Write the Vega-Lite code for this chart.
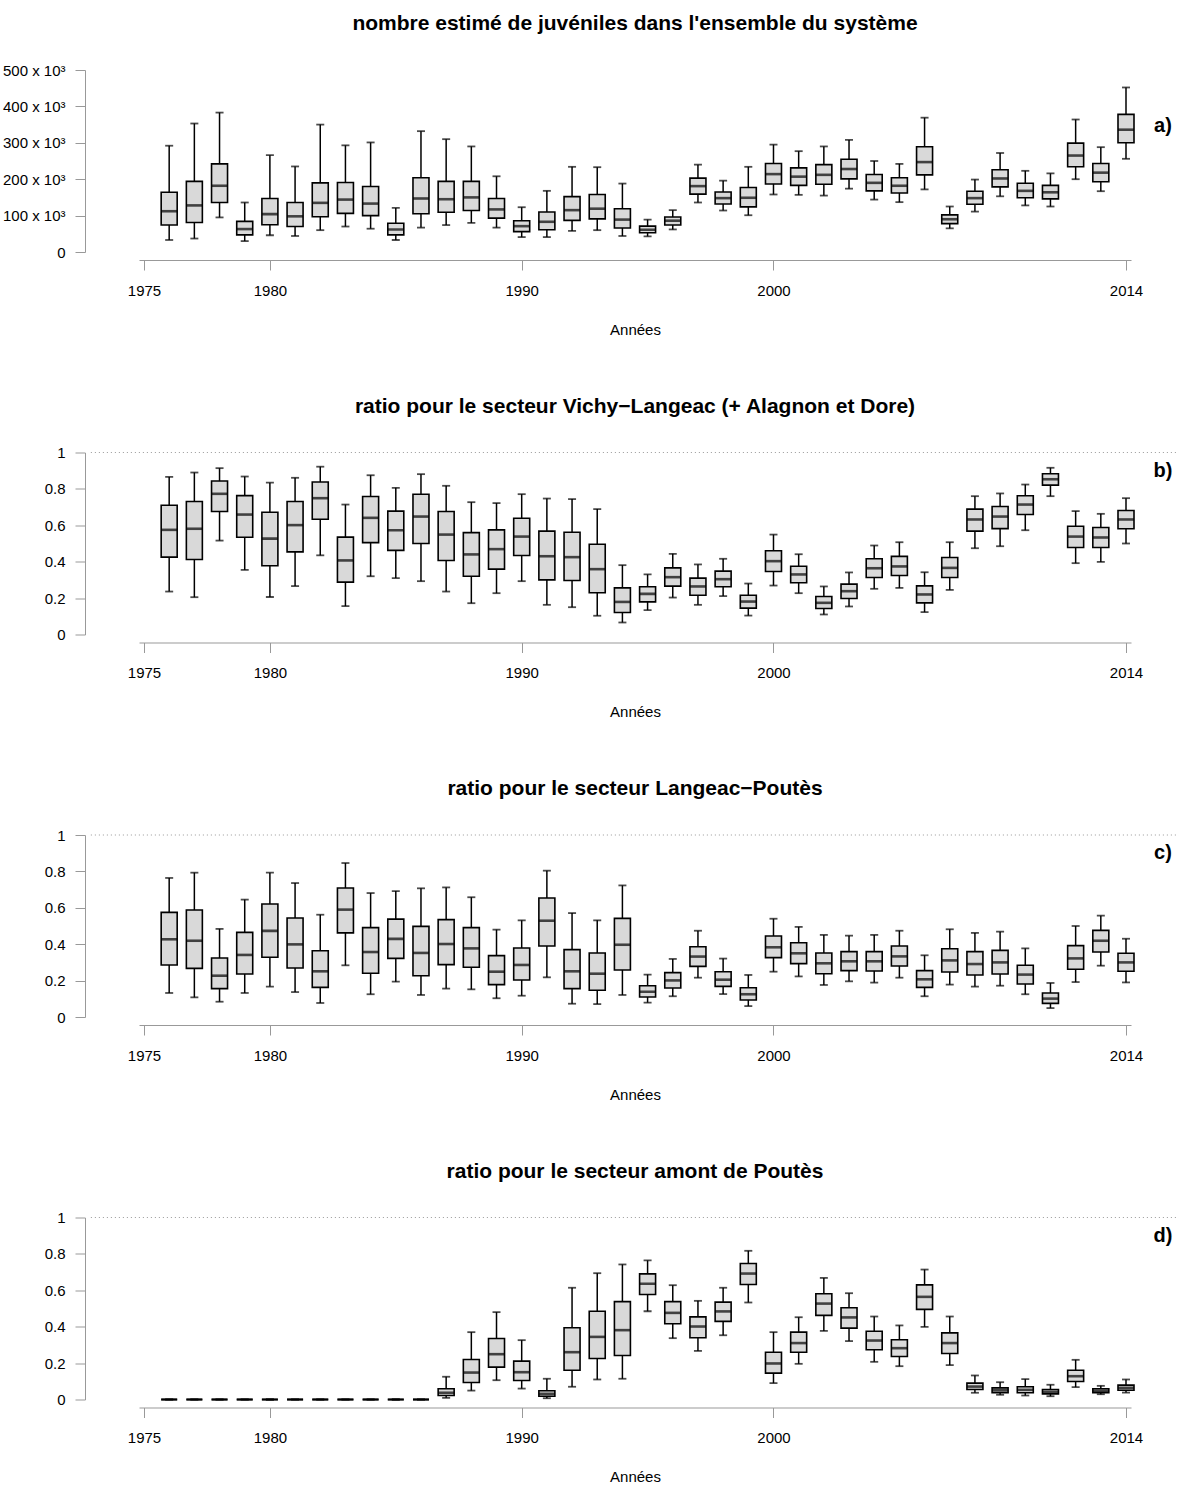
{
  "$schema": "https://vega.github.io/schema/vega-lite/v6.json",
  "padding": {"left": 2, "top": 13, "right": 0, "bottom": 2},
  "background": "white",
  "spacing": 58.5,
  "config": {
    "font": "Liberation Sans",
    "view": {"stroke": null},
    "axis": {"grid": false, "domainColor": "#999999", "tickColor": "#999999", "tickSize": 10, "domainWidth": 1, "tickWidth": 1, "labelFontSize": 15, "labelColor": "#000000", "titleFontSize": 15, "titleFontWeight": "normal", "titleColor": "#000000", "labelFlush": false, "labelOverlap": false},
    "axisX": {"offset": 8, "labelPadding": 13, "titlePadding": 24},
    "axisY": {"offset": 54, "labelPadding": 10},
    "title": {"fontSize": 21, "fontWeight": "bold", "color": "#000000", "offset": 29, "anchor": "middle"}
  },
  "datasets": {
    "a": [
      {"year":1976,"lo":33000,"q1":74000,"med":112000,"q3":164000,"hi":292000},
      {"year":1977,"lo":37000,"q1":81000,"med":128000,"q3":194000,"hi":353000},
      {"year":1978,"lo":95000,"q1":136000,"med":182000,"q3":242000,"hi":383000},
      {"year":1979,"lo":30000,"q1":47000,"med":63000,"q3":84000,"hi":136000},
      {"year":1980,"lo":46000,"q1":75000,"med":104000,"q3":147000,"hi":266000},
      {"year":1981,"lo":44000,"q1":70000,"med":98000,"q3":136000,"hi":235000},
      {"year":1982,"lo":60000,"q1":97000,"med":135000,"q3":190000,"hi":350000},
      {"year":1983,"lo":70000,"q1":106000,"med":144000,"q3":191000,"hi":293000},
      {"year":1984,"lo":64000,"q1":100000,"med":133000,"q3":180000,"hi":301000},
      {"year":1985,"lo":33000,"q1":47000,"med":62000,"q3":79000,"hi":121000},
      {"year":1986,"lo":67000,"q1":105000,"med":147000,"q3":204000,"hi":332000},
      {"year":1987,"lo":74000,"q1":109000,"med":145000,"q3":194000,"hi":310000},
      {"year":1988,"lo":80000,"q1":114000,"med":150000,"q3":194000,"hi":290000},
      {"year":1989,"lo":67000,"q1":93000,"med":117000,"q3":147000,"hi":208000},
      {"year":1990,"lo":41000,"q1":56000,"med":71000,"q3":86000,"hi":123000},
      {"year":1991,"lo":41000,"q1":61000,"med":83000,"q3":110000,"hi":168000},
      {"year":1992,"lo":58000,"q1":87000,"med":115000,"q3":152000,"hi":234000},
      {"year":1993,"lo":60000,"q1":91000,"med":119000,"q3":158000,"hi":233000},
      {"year":1994,"lo":44000,"q1":66000,"med":89000,"q3":119000,"hi":188000},
      {"year":1995,"lo":43000,"q1":53000,"med":61000,"q3":71000,"hi":89000},
      {"year":1996,"lo":62000,"q1":74000,"med":86000,"q3":96000,"hi":115000},
      {"year":1997,"lo":136000,"q1":159000,"med":181000,"q3":203000,"hi":240000},
      {"year":1998,"lo":114000,"q1":132000,"med":148000,"q3":165000,"hi":196000},
      {"year":1999,"lo":101000,"q1":124000,"med":149000,"q3":177000,"hi":234000},
      {"year":2000,"lo":158000,"q1":187000,"med":214000,"q3":243000,"hi":295000},
      {"year":2001,"lo":157000,"q1":183000,"med":207000,"q3":231000,"hi":277000},
      {"year":2002,"lo":155000,"q1":186000,"med":212000,"q3":240000,"hi":290000},
      {"year":2003,"lo":174000,"q1":201000,"med":228000,"q3":255000,"hi":308000},
      {"year":2004,"lo":144000,"q1":168000,"med":190000,"q3":213000,"hi":250000},
      {"year":2005,"lo":137000,"q1":162000,"med":182000,"q3":204000,"hi":242000},
      {"year":2006,"lo":172000,"q1":212000,"med":247000,"q3":289000,"hi":369000},
      {"year":2007,"lo":65000,"q1":78000,"med":90000,"q3":102000,"hi":125000},
      {"year":2008,"lo":111000,"q1":131000,"med":148000,"q3":167000,"hi":199000},
      {"year":2009,"lo":153000,"q1":179000,"med":202000,"q3":226000,"hi":272000},
      {"year":2010,"lo":128000,"q1":149000,"med":168000,"q3":189000,"hi":223000},
      {"year":2011,"lo":125000,"q1":146000,"med":164000,"q3":183000,"hi":216000},
      {"year":2012,"lo":200000,"q1":234000,"med":265000,"q3":299000,"hi":364000},
      {"year":2013,"lo":167000,"q1":193000,"med":218000,"q3":243000,"hi":288000},
      {"year":2014,"lo":256000,"q1":300000,"med":336000,"q3":378000,"hi":452000}
    ],
    "b": [
      {"year":1976,"lo":0.236,"q1":0.425,"med":0.575,"q3":0.71,"hi":0.866},
      {"year":1977,"lo":0.205,"q1":0.412,"med":0.581,"q3":0.731,"hi":0.89},
      {"year":1978,"lo":0.516,"q1":0.676,"med":0.773,"q3":0.843,"hi":0.914},
      {"year":1979,"lo":0.355,"q1":0.534,"med":0.659,"q3":0.763,"hi":0.868},
      {"year":1980,"lo":0.206,"q1":0.378,"med":0.527,"q3":0.672,"hi":0.834},
      {"year":1981,"lo":0.266,"q1":0.454,"med":0.601,"q3":0.731,"hi":0.861},
      {"year":1982,"lo":0.435,"q1":0.633,"med":0.749,"q3":0.838,"hi":0.922},
      {"year":1983,"lo":0.156,"q1":0.288,"med":0.407,"q3":0.535,"hi":0.714},
      {"year":1984,"lo":0.32,"q1":0.505,"med":0.641,"q3":0.758,"hi":0.875},
      {"year":1985,"lo":0.31,"q1":0.462,"med":0.573,"q3":0.678,"hi":0.806},
      {"year":1986,"lo":0.293,"q1":0.5,"med":0.648,"q3":0.771,"hi":0.881},
      {"year":1987,"lo":0.236,"q1":0.407,"med":0.549,"q3":0.676,"hi":0.817},
      {"year":1988,"lo":0.172,"q1":0.32,"med":0.44,"q3":0.56,"hi":0.727},
      {"year":1989,"lo":0.227,"q1":0.359,"med":0.469,"q3":0.575,"hi":0.722},
      {"year":1990,"lo":0.293,"q1":0.434,"med":0.538,"q3":0.639,"hi":0.771},
      {"year":1991,"lo":0.163,"q1":0.3,"med":0.43,"q3":0.568,"hi":0.747},
      {"year":1992,"lo":0.15,"q1":0.297,"med":0.425,"q3":0.562,"hi":0.744},
      {"year":1993,"lo":0.103,"q1":0.229,"med":0.359,"q3":0.496,"hi":0.689},
      {"year":1994,"lo":0.066,"q1":0.121,"med":0.179,"q3":0.256,"hi":0.381},
      {"year":1995,"lo":0.134,"q1":0.179,"med":0.223,"q3":0.262,"hi":0.33},
      {"year":1996,"lo":0.203,"q1":0.266,"med":0.315,"q3":0.366,"hi":0.443},
      {"year":1997,"lo":0.163,"q1":0.216,"med":0.264,"q3":0.31,"hi":0.385},
      {"year":1998,"lo":0.211,"q1":0.262,"med":0.304,"q3":0.348,"hi":0.416},
      {"year":1999,"lo":0.104,"q1":0.145,"med":0.181,"q3":0.216,"hi":0.28},
      {"year":2000,"lo":0.269,"q1":0.346,"med":0.403,"q3":0.46,"hi":0.549},
      {"year":2001,"lo":0.227,"q1":0.284,"med":0.33,"q3":0.375,"hi":0.441},
      {"year":2002,"lo":0.11,"q1":0.143,"med":0.174,"q3":0.209,"hi":0.264},
      {"year":2003,"lo":0.154,"q1":0.198,"med":0.238,"q3":0.277,"hi":0.341},
      {"year":2004,"lo":0.251,"q1":0.313,"med":0.364,"q3":0.416,"hi":0.489},
      {"year":2005,"lo":0.256,"q1":0.324,"med":0.374,"q3":0.429,"hi":0.507},
      {"year":2006,"lo":0.123,"q1":0.174,"med":0.22,"q3":0.267,"hi":0.342},
      {"year":2007,"lo":0.245,"q1":0.313,"med":0.366,"q3":0.423,"hi":0.507},
      {"year":2008,"lo":0.474,"q1":0.568,"med":0.632,"q3":0.689,"hi":0.76},
      {"year":2009,"lo":0.485,"q1":0.582,"med":0.648,"q3":0.703,"hi":0.775},
      {"year":2010,"lo":0.573,"q1":0.659,"med":0.714,"q3":0.762,"hi":0.824},
      {"year":2011,"lo":0.76,"q1":0.821,"med":0.853,"q3":0.883,"hi":0.916},
      {"year":2012,"lo":0.392,"q1":0.478,"med":0.538,"q3":0.595,"hi":0.678},
      {"year":2013,"lo":0.399,"q1":0.478,"med":0.533,"q3":0.588,"hi":0.663},
      {"year":2014,"lo":0.5,"q1":0.581,"med":0.632,"q3":0.681,"hi":0.749}
    ],
    "c": [
      {"year":1976,"lo":0.132,"q1":0.286,"med":0.427,"q3":0.575,"hi":0.764},
      {"year":1977,"lo":0.108,"q1":0.267,"med":0.419,"q3":0.588,"hi":0.793},
      {"year":1978,"lo":0.084,"q1":0.156,"med":0.227,"q3":0.324,"hi":0.484},
      {"year":1979,"lo":0.132,"q1":0.236,"med":0.341,"q3":0.465,"hi":0.645},
      {"year":1980,"lo":0.167,"q1":0.328,"med":0.473,"q3":0.621,"hi":0.793},
      {"year":1981,"lo":0.137,"q1":0.269,"med":0.399,"q3":0.544,"hi":0.736},
      {"year":1982,"lo":0.077,"q1":0.163,"med":0.251,"q3":0.364,"hi":0.562},
      {"year":1983,"lo":0.284,"q1":0.462,"med":0.59,"q3":0.709,"hi":0.846},
      {"year":1984,"lo":0.125,"q1":0.24,"med":0.357,"q3":0.491,"hi":0.681},
      {"year":1985,"lo":0.194,"q1":0.322,"med":0.429,"q3":0.538,"hi":0.692},
      {"year":1986,"lo":0.121,"q1":0.227,"med":0.352,"q3":0.498,"hi":0.707},
      {"year":1987,"lo":0.156,"q1":0.288,"med":0.401,"q3":0.535,"hi":0.712},
      {"year":1988,"lo":0.152,"q1":0.273,"med":0.377,"q3":0.491,"hi":0.658},
      {"year":1989,"lo":0.103,"q1":0.178,"med":0.249,"q3":0.337,"hi":0.48},
      {"year":1990,"lo":0.117,"q1":0.203,"med":0.286,"q3":0.379,"hi":0.531},
      {"year":1991,"lo":0.218,"q1":0.39,"med":0.529,"q3":0.654,"hi":0.804},
      {"year":1992,"lo":0.073,"q1":0.156,"med":0.251,"q3":0.37,"hi":0.571},
      {"year":1993,"lo":0.071,"q1":0.147,"med":0.238,"q3":0.352,"hi":0.531},
      {"year":1994,"lo":0.121,"q1":0.258,"med":0.397,"q3":0.542,"hi":0.723},
      {"year":1995,"lo":0.079,"q1":0.11,"med":0.139,"q3":0.172,"hi":0.233},
      {"year":1996,"lo":0.114,"q1":0.159,"med":0.201,"q3":0.244,"hi":0.319},
      {"year":1997,"lo":0.216,"q1":0.278,"med":0.332,"q3":0.386,"hi":0.474},
      {"year":1998,"lo":0.126,"q1":0.168,"med":0.205,"q3":0.249,"hi":0.321},
      {"year":1999,"lo":0.06,"q1":0.093,"med":0.125,"q3":0.161,"hi":0.231},
      {"year":2000,"lo":0.249,"q1":0.326,"med":0.383,"q3":0.445,"hi":0.54},
      {"year":2001,"lo":0.223,"q1":0.293,"med":0.35,"q3":0.408,"hi":0.495},
      {"year":2002,"lo":0.176,"q1":0.238,"med":0.295,"q3":0.352,"hi":0.451},
      {"year":2003,"lo":0.196,"q1":0.255,"med":0.306,"q3":0.359,"hi":0.447},
      {"year":2004,"lo":0.189,"q1":0.253,"med":0.306,"q3":0.359,"hi":0.451},
      {"year":2005,"lo":0.216,"q1":0.28,"med":0.333,"q3":0.39,"hi":0.474},
      {"year":2006,"lo":0.114,"q1":0.163,"med":0.207,"q3":0.255,"hi":0.339},
      {"year":2007,"lo":0.178,"q1":0.247,"med":0.311,"q3":0.375,"hi":0.482},
      {"year":2008,"lo":0.167,"q1":0.231,"med":0.291,"q3":0.359,"hi":0.462},
      {"year":2009,"lo":0.172,"q1":0.236,"med":0.3,"q3":0.366,"hi":0.469},
      {"year":2010,"lo":0.125,"q1":0.181,"med":0.233,"q3":0.284,"hi":0.377},
      {"year":2011,"lo":0.049,"q1":0.075,"med":0.101,"q3":0.132,"hi":0.187},
      {"year":2012,"lo":0.192,"q1":0.262,"med":0.322,"q3":0.392,"hi":0.5},
      {"year":2013,"lo":0.282,"q1":0.357,"med":0.419,"q3":0.476,"hi":0.557},
      {"year":2014,"lo":0.19,"q1":0.251,"med":0.3,"q3":0.35,"hi":0.43}
    ],
    "d": [
      {"year":1976,"lo":0,"q1":0,"med":0,"q3":0,"hi":0},
      {"year":1977,"lo":0,"q1":0,"med":0,"q3":0,"hi":0},
      {"year":1978,"lo":0,"q1":0,"med":0,"q3":0,"hi":0},
      {"year":1979,"lo":0,"q1":0,"med":0,"q3":0,"hi":0},
      {"year":1980,"lo":0,"q1":0,"med":0,"q3":0,"hi":0},
      {"year":1981,"lo":0,"q1":0,"med":0,"q3":0,"hi":0},
      {"year":1982,"lo":0,"q1":0,"med":0,"q3":0,"hi":0},
      {"year":1983,"lo":0,"q1":0,"med":0,"q3":0,"hi":0},
      {"year":1984,"lo":0,"q1":0,"med":0,"q3":0,"hi":0},
      {"year":1985,"lo":0,"q1":0,"med":0,"q3":0,"hi":0},
      {"year":1986,"lo":0,"q1":0,"med":0,"q3":0,"hi":0},
      {"year":1987,"lo":0.009,"q1":0.022,"med":0.037,"q3":0.059,"hi":0.125},
      {"year":1988,"lo":0.049,"q1":0.093,"med":0.148,"q3":0.22,"hi":0.37},
      {"year":1989,"lo":0.106,"q1":0.178,"med":0.249,"q3":0.335,"hi":0.48},
      {"year":1990,"lo":0.06,"q1":0.104,"med":0.15,"q3":0.211,"hi":0.326},
      {"year":1991,"lo":0.007,"q1":0.018,"med":0.031,"q3":0.048,"hi":0.114},
      {"year":1992,"lo":0.07,"q1":0.161,"med":0.26,"q3":0.394,"hi":0.614},
      {"year":1993,"lo":0.11,"q1":0.225,"med":0.344,"q3":0.485,"hi":0.694},
      {"year":1994,"lo":0.114,"q1":0.242,"med":0.381,"q3":0.538,"hi":0.742},
      {"year":1995,"lo":0.485,"q1":0.577,"med":0.636,"q3":0.69,"hi":0.764},
      {"year":1996,"lo":0.337,"q1":0.416,"med":0.476,"q3":0.538,"hi":0.628},
      {"year":1997,"lo":0.267,"q1":0.339,"med":0.401,"q3":0.454,"hi":0.542},
      {"year":1998,"lo":0.353,"q1":0.429,"med":0.484,"q3":0.535,"hi":0.614},
      {"year":1999,"lo":0.533,"q1":0.632,"med":0.692,"q3":0.747,"hi":0.817},
      {"year":2000,"lo":0.09,"q1":0.145,"med":0.198,"q3":0.26,"hi":0.37},
      {"year":2001,"lo":0.196,"q1":0.26,"med":0.31,"q3":0.37,"hi":0.452},
      {"year":2002,"lo":0.377,"q1":0.462,"med":0.527,"q3":0.581,"hi":0.668},
      {"year":2003,"lo":0.321,"q1":0.392,"med":0.451,"q3":0.504,"hi":0.584},
      {"year":2004,"lo":0.207,"q1":0.273,"med":0.324,"q3":0.375,"hi":0.456},
      {"year":2005,"lo":0.183,"q1":0.236,"med":0.282,"q3":0.328,"hi":0.407},
      {"year":2006,"lo":0.399,"q1":0.495,"med":0.564,"q3":0.63,"hi":0.714},
      {"year":2007,"lo":0.189,"q1":0.253,"med":0.31,"q3":0.366,"hi":0.456},
      {"year":2008,"lo":0.037,"q1":0.055,"med":0.071,"q3":0.09,"hi":0.132},
      {"year":2009,"lo":0.026,"q1":0.038,"med":0.051,"q3":0.064,"hi":0.095},
      {"year":2010,"lo":0.022,"q1":0.037,"med":0.053,"q3":0.07,"hi":0.112},
      {"year":2011,"lo":0.018,"q1":0.031,"med":0.042,"q3":0.055,"hi":0.081},
      {"year":2012,"lo":0.068,"q1":0.099,"med":0.128,"q3":0.161,"hi":0.218},
      {"year":2013,"lo":0.029,"q1":0.038,"med":0.048,"q3":0.059,"hi":0.075},
      {"year":2014,"lo":0.038,"q1":0.051,"med":0.064,"q3":0.079,"hi":0.11}
    ]
  },
  "vconcat": [
    {
      "data": {"name": "a"},
      "width": 992, "height": 182,
      "title": {"text": "nombre estimé de juvéniles dans l'ensemble du système"},
      "layer": [
        {"mark": {"type": "rule", "color": "#000000", "strokeWidth": 1.5}, "encoding": {"x": {"field": "year", "type": "quantitative", "scale": {"domain": [1975, 2014], "nice": false, "zero": false}, "axis": {"values": [1975, 1980, 1990, 2000, 2014], "tickCount": 20, "format": "d", "title": "Années", "labelOverlap": false, "labelFlush": false}}, "y": {"field": "lo", "type": "quantitative", "title": null, "scale": {"domain": [0, 500000], "nice": false, "zero": false}, "axis": {"values": [0, 100000, 200000, 300000, 400000, 500000], "tickCount": 10, "labelOverlap": false, "labelFlush": false, "labelExpr": "datum.value == 0 ? '0' : format(datum.value / 1000, 'd') + ' x 10³'"}}, "y2": {"field": "hi"}}},
        {"mark": {"type": "tick", "orient": "horizontal", "size": 8, "thickness": 1.8, "color": "#000000"}, "encoding": {"x": {"field": "year", "type": "quantitative"}, "y": {"field": "lo", "type": "quantitative", "title": null}}},
        {"mark": {"type": "tick", "orient": "horizontal", "size": 8, "thickness": 1.8, "color": "#000000"}, "encoding": {"x": {"field": "year", "type": "quantitative"}, "y": {"field": "hi", "type": "quantitative", "title": null}}},
        {"mark": {"type": "bar", "width": 16, "fill": "#d9d9d9", "stroke": "#000000", "strokeWidth": 1.6}, "encoding": {"x": {"field": "year", "type": "quantitative"}, "y": {"field": "q1", "type": "quantitative", "title": null}, "y2": {"field": "q3"}}},
        {"mark": {"type": "tick", "orient": "horizontal", "size": 16, "thickness": 2.6, "color": "#000000"}, "encoding": {"x": {"field": "year", "type": "quantitative"}, "y": {"field": "med", "type": "quantitative", "title": null}}},
        {"transform": [{"filter": "datum.year == 2014"}], "mark": {"type": "text", "fontSize": 20, "fontWeight": "bold", "align": "center", "baseline": "middle", "color": "#000000", "text": "a)"}, "encoding": {"x": {"datum": 2015.47, "type": "quantitative"}, "y": {"datum": 345000, "type": "quantitative"}}}
      ]
    },
    {
      "data": {"name": "b"},
      "width": 992, "height": 182,
      "title": {"text": "ratio pour le secteur Vichy−Langeac (+ Alagnon et Dore)"},
      "layer": [
        {"mark": {"type": "rule", "color": "#000000", "strokeWidth": 1.5}, "encoding": {"x": {"field": "year", "type": "quantitative", "scale": {"domain": [1975, 2014], "nice": false, "zero": false}, "axis": {"values": [1975, 1980, 1990, 2000, 2014], "tickCount": 20, "format": "d", "title": "Années", "labelOverlap": false, "labelFlush": false}}, "y": {"field": "lo", "type": "quantitative", "title": null, "scale": {"domain": [0, 1], "nice": false, "zero": false}, "axis": {"values": [0, 0.2, 0.4, 0.6, 0.8, 1], "tickCount": 10, "format": "~g", "labelOverlap": false, "labelFlush": false}}, "y2": {"field": "hi"}}},
        {"mark": {"type": "tick", "orient": "horizontal", "size": 8, "thickness": 1.8, "color": "#000000"}, "encoding": {"x": {"field": "year", "type": "quantitative"}, "y": {"field": "lo", "type": "quantitative", "title": null}}},
        {"mark": {"type": "tick", "orient": "horizontal", "size": 8, "thickness": 1.8, "color": "#000000"}, "encoding": {"x": {"field": "year", "type": "quantitative"}, "y": {"field": "hi", "type": "quantitative", "title": null}}},
        {"mark": {"type": "bar", "width": 16, "fill": "#d9d9d9", "stroke": "#000000", "strokeWidth": 1.6}, "encoding": {"x": {"field": "year", "type": "quantitative"}, "y": {"field": "q1", "type": "quantitative", "title": null}, "y2": {"field": "q3"}}},
        {"mark": {"type": "tick", "orient": "horizontal", "size": 16, "thickness": 2.6, "color": "#000000"}, "encoding": {"x": {"field": "year", "type": "quantitative"}, "y": {"field": "med", "type": "quantitative", "title": null}}},
        {"transform": [{"filter": "datum.year == 2014"}], "mark": {"type": "rule", "color": "#999999", "strokeWidth": 1, "strokeDash": [1, 3]}, "encoding": {"x": {"datum": 1972.89, "type": "quantitative"}, "x2": {"datum": 2016.1}, "y": {"datum": 1, "type": "quantitative"}}},
        {"transform": [{"filter": "datum.year == 2014"}], "mark": {"type": "text", "fontSize": 20, "fontWeight": "bold", "align": "center", "baseline": "middle", "color": "#000000", "text": "b)"}, "encoding": {"x": {"datum": 2015.47, "type": "quantitative"}, "y": {"datum": 0.9, "type": "quantitative"}}}
      ]
    },
    {
      "data": {"name": "c"},
      "width": 992, "height": 182,
      "title": {"text": "ratio pour le secteur Langeac−Poutès"},
      "layer": [
        {"mark": {"type": "rule", "color": "#000000", "strokeWidth": 1.5}, "encoding": {"x": {"field": "year", "type": "quantitative", "scale": {"domain": [1975, 2014], "nice": false, "zero": false}, "axis": {"values": [1975, 1980, 1990, 2000, 2014], "tickCount": 20, "format": "d", "title": "Années", "labelOverlap": false, "labelFlush": false}}, "y": {"field": "lo", "type": "quantitative", "title": null, "scale": {"domain": [0, 1], "nice": false, "zero": false}, "axis": {"values": [0, 0.2, 0.4, 0.6, 0.8, 1], "tickCount": 10, "format": "~g", "labelOverlap": false, "labelFlush": false}}, "y2": {"field": "hi"}}},
        {"mark": {"type": "tick", "orient": "horizontal", "size": 8, "thickness": 1.8, "color": "#000000"}, "encoding": {"x": {"field": "year", "type": "quantitative"}, "y": {"field": "lo", "type": "quantitative", "title": null}}},
        {"mark": {"type": "tick", "orient": "horizontal", "size": 8, "thickness": 1.8, "color": "#000000"}, "encoding": {"x": {"field": "year", "type": "quantitative"}, "y": {"field": "hi", "type": "quantitative", "title": null}}},
        {"mark": {"type": "bar", "width": 16, "fill": "#d9d9d9", "stroke": "#000000", "strokeWidth": 1.6}, "encoding": {"x": {"field": "year", "type": "quantitative"}, "y": {"field": "q1", "type": "quantitative", "title": null}, "y2": {"field": "q3"}}},
        {"mark": {"type": "tick", "orient": "horizontal", "size": 16, "thickness": 2.6, "color": "#000000"}, "encoding": {"x": {"field": "year", "type": "quantitative"}, "y": {"field": "med", "type": "quantitative", "title": null}}},
        {"transform": [{"filter": "datum.year == 2014"}], "mark": {"type": "rule", "color": "#999999", "strokeWidth": 1, "strokeDash": [1, 3]}, "encoding": {"x": {"datum": 1972.89, "type": "quantitative"}, "x2": {"datum": 2016.1}, "y": {"datum": 1, "type": "quantitative"}}},
        {"transform": [{"filter": "datum.year == 2014"}], "mark": {"type": "text", "fontSize": 20, "fontWeight": "bold", "align": "center", "baseline": "middle", "color": "#000000", "text": "c)"}, "encoding": {"x": {"datum": 2015.47, "type": "quantitative"}, "y": {"datum": 0.9, "type": "quantitative"}}}
      ]
    },
    {
      "data": {"name": "d"},
      "width": 992, "height": 182,
      "title": {"text": "ratio pour le secteur amont de Poutès"},
      "layer": [
        {"mark": {"type": "rule", "color": "#000000", "strokeWidth": 1.5}, "encoding": {"x": {"field": "year", "type": "quantitative", "scale": {"domain": [1975, 2014], "nice": false, "zero": false}, "axis": {"values": [1975, 1980, 1990, 2000, 2014], "tickCount": 20, "format": "d", "title": "Années", "labelOverlap": false, "labelFlush": false}}, "y": {"field": "lo", "type": "quantitative", "title": null, "scale": {"domain": [0, 1], "nice": false, "zero": false}, "axis": {"values": [0, 0.2, 0.4, 0.6, 0.8, 1], "tickCount": 10, "format": "~g", "labelOverlap": false, "labelFlush": false}}, "y2": {"field": "hi"}}},
        {"mark": {"type": "tick", "orient": "horizontal", "size": 8, "thickness": 1.8, "color": "#000000"}, "encoding": {"x": {"field": "year", "type": "quantitative"}, "y": {"field": "lo", "type": "quantitative", "title": null}}},
        {"mark": {"type": "tick", "orient": "horizontal", "size": 8, "thickness": 1.8, "color": "#000000"}, "encoding": {"x": {"field": "year", "type": "quantitative"}, "y": {"field": "hi", "type": "quantitative", "title": null}}},
        {"mark": {"type": "bar", "width": 16, "fill": "#d9d9d9", "stroke": "#000000", "strokeWidth": 1.6}, "encoding": {"x": {"field": "year", "type": "quantitative"}, "y": {"field": "q1", "type": "quantitative", "title": null}, "y2": {"field": "q3"}}},
        {"mark": {"type": "tick", "orient": "horizontal", "size": 16, "thickness": 2.6, "color": "#000000"}, "encoding": {"x": {"field": "year", "type": "quantitative"}, "y": {"field": "med", "type": "quantitative", "title": null}}},
        {"transform": [{"filter": "datum.year == 2014"}], "mark": {"type": "rule", "color": "#999999", "strokeWidth": 1, "strokeDash": [1, 3]}, "encoding": {"x": {"datum": 1972.89, "type": "quantitative"}, "x2": {"datum": 2016.1}, "y": {"datum": 1, "type": "quantitative"}}},
        {"transform": [{"filter": "datum.year == 2014"}], "mark": {"type": "text", "fontSize": 20, "fontWeight": "bold", "align": "center", "baseline": "middle", "color": "#000000", "text": "d)"}, "encoding": {"x": {"datum": 2015.47, "type": "quantitative"}, "y": {"datum": 0.9, "type": "quantitative"}}}
      ]
    }
  ]
}
